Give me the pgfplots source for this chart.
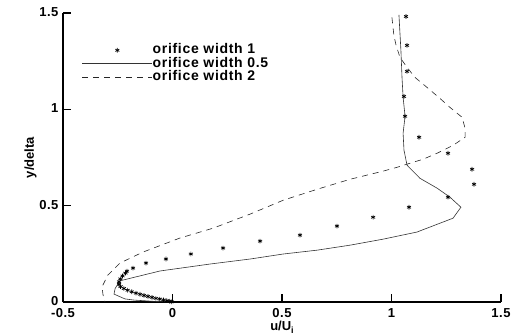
\documentclass[border=0pt]{standalone}
\usepackage{pgfplots}
\pgfplotsset{compat=1.18}
\usepackage{fontspec}
\setmainfont{Liberation Sans}
\pgfplotsset{
  lineleg/.style={legend image code/.code={\draw[##1] (0pt,0pt) -- (70pt,0pt);}},
  starleg/.style={legend image code/.code={\draw[##1] plot coordinates {(35pt,0pt)};}},
}
\begin{document}
\begin{tikzpicture}
\useasboundingbox (-63pt,-33pt) rectangle (449pt,302pt);
\begin{axis}[
  at={(0pt,0pt)}, anchor=south west,
  scale only axis, width=438pt, height=289pt,
  xmin=-0.5, xmax=1.5, ymin=0, ymax=1.5,
  axis x line=bottom, axis y line=left,
  axis line style={-, line width=1.3pt},
  tick align=inside, major tick length=8pt,
  tick style={line width=1.3pt, black},
  xtick={-0.5,0,0.5,1,1.5}, ytick={0,0.5,1,1.5},
  /pgf/number format/assume math mode=true,
  ticklabel style={font=\fontsize{13}{15}\selectfont\bfseries\addfontfeatures{LetterSpace=4}},
  xticklabel style={yshift=-3pt},
  yticklabel style={xshift=-1pt, yshift=1pt},
  xlabel={u/U\raisebox{-3pt}{\fontsize{9}{9}\selectfont i}},
  ylabel={y/delta},
  label style={font=\fontsize{13}{15}\selectfont\bfseries},
  xlabel style={yshift=3.5pt},
  ylabel style={yshift=-4pt},
  legend style={at={(rel axis cs:0.043,0.895)}, anchor=north west, draw=none, fill=none,
    font=\fontsize{14}{14}\selectfont\bfseries\addfontfeatures{LetterSpace=5}, inner sep=0pt, row sep=0pt,
    nodes={inner sep=0pt, text height=10pt, text depth=3.5pt}},
  legend cell align=left,
]
\addplot[only marks, mark=asterisk, mark size=2.3pt, black, line width=0.7pt, starleg]
coordinates {
(1.066,1.482) (1.071,1.332) (1.071,1.197) (1.057,1.067) (1.062,0.964)
(1.126,0.855) (1.258,0.772) (1.368,0.689) (1.377,0.611) (1.258,0.544)
(1.080,0.492) (0.916,0.440) (0.751,0.394) (0.582,0.347) (0.400,0.316)
(0.231,0.280) (0.084,0.249) (-0.030,0.223) (-0.121,0.202) (-0.180,0.176)
(-0.208,0.160) (-0.215,0.150) (-0.228,0.135) (-0.238,0.120) (-0.244,0.105)
(-0.244,0.092) (-0.237,0.080) (-0.222,0.070) (-0.205,0.061) (-0.186,0.053)
(-0.167,0.046) (-0.148,0.040) (-0.130,0.034) (-0.112,0.029) (-0.094,0.024)
(-0.076,0.019) (-0.058,0.015) (-0.041,0.011) (-0.026,0.007) (-0.013,0.004)
(-0.003,0.001)
};
\addlegendentry{orifice width 1}
\addplot[black!80, line width=0.6pt, lineleg]
coordinates {
(1.034,1.490) (1.043,1.306) (1.048,1.166) (1.053,1.062) (1.062,0.964)
(1.053,0.876) (1.057,0.788) (1.071,0.710) (1.130,0.642) (1.208,0.591)
(1.267,0.544) (1.317,0.492) (1.281,0.435) (1.116,0.363) (0.961,0.326)
(0.811,0.295) (0.660,0.269) (0.505,0.249) (0.354,0.223) (0.171,0.197)
(-0.057,0.161) (-0.240,0.110) (-0.262,0.070) (-0.267,0.041) (-0.217,0.016)
(-0.176,0.010) (-0.080,0.003) (0.000,0.000)
};
\addlegendentry{orifice width 0.5}
\addplot[black!85, line width=0.6pt, dash pattern=on 6pt off 5pt, lineleg]
coordinates {
(1.002,1.477) (1.011,1.383) (1.021,1.332) (1.039,1.269) (1.071,1.218)
(1.107,1.166) (1.162,1.114) (1.221,1.057) (1.267,1.010) (1.322,0.959)
(1.336,0.902) (1.336,0.855) (1.281,0.813) (1.208,0.772) (1.144,0.741)
(1.084,0.720) (1.025,0.699) (0.961,0.679) (0.811,0.637) (0.660,0.585)
(0.505,0.528) (0.354,0.456) (0.185,0.383) (0.034,0.332) (-0.135,0.259)
(-0.240,0.202) (-0.295,0.140) (-0.322,0.078) (-0.317,0.036) (-0.308,0.000)
};
\addlegendentry{orifice width 2}
\end{axis}
\end{tikzpicture}
\end{document}
